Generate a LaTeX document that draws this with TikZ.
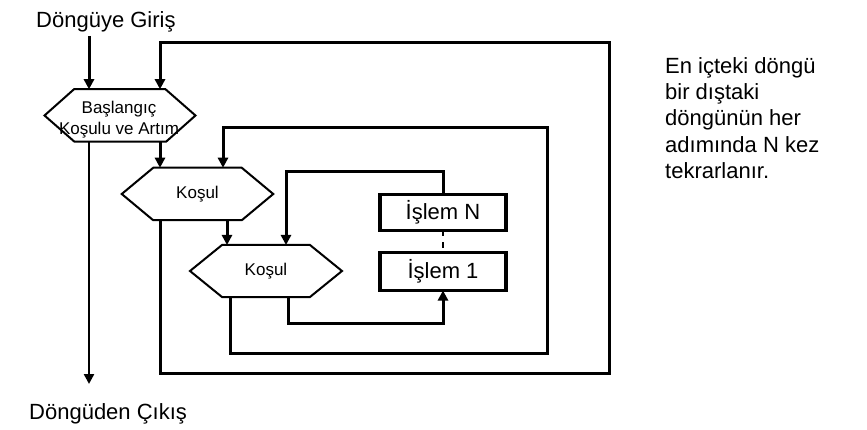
\documentclass[tikz,border=0pt]{standalone}
\usepackage{fontspec}
\setmainfont{Liberation Sans}
\usetikzlibrary{arrows.meta}
\begin{document}
\begin{tikzpicture}[x=1pt,y=-1pt,
  conn/.style={line width=3pt, line join=miter, -{Triangle[length=10pt,width=10pt]}},
  hexnode/.style={inner sep=0pt, outer sep=0pt, font=\fontsize{17}{21}\selectfont},
  hexline/.style={line width=2pt, line join=miter},
  boxnode/.style={draw, line width=3.2pt, inner sep=0pt, outer sep=0pt, font=\fontsize{22}{26}\selectfont},
  lbl/.style={font=\fontsize{22}{26}\selectfont, inner sep=0pt},
  small/.style={font=\fontsize{17}{21}\selectfont, align=center, inner sep=0pt}]
\useasboundingbox (0,0) rectangle (867,430);
\fill[white] (0,0) rectangle (867,430);

% hexagon 1
\node[hexnode, minimum width=151pt, minimum height=52.5pt] (h1) at (120,115.5) {};
\draw[hexline] (h1.west) -- ([xshift=29.5pt]h1.north west) -- ([xshift=-30pt]h1.north east) -- (h1.east)
  -- ([xshift=-29.5pt]h1.south east) -- ([xshift=30pt]h1.south west) -- cycle;
\node[small] (h1t) at (119,120) {Başlangıç\\Koşulu ve Artım};

% hexagon 2 (Koşul)
\node[hexnode, minimum width=151.5pt, minimum height=52.5pt] (k1) at (197.5,194) {Koşul};
\draw[hexline] (k1.west) -- ([xshift=31.5pt]k1.north west) -- ([xshift=-31.5pt]k1.north east) -- (k1.east)
  -- ([xshift=-31.5pt]k1.south east) -- ([xshift=31.5pt]k1.south west) -- cycle;

% hexagon 3 (Koşul)
\node[hexnode, minimum width=152pt, minimum height=52pt] (k2) at (266,271) {Koşul};
\draw[hexline] (k2.west) -- ([xshift=32pt]k2.north west) -- ([xshift=-32pt]k2.north east) -- (k2.east)
  -- ([xshift=-32pt]k2.south east) -- ([xshift=32pt]k2.south west) -- cycle;

% process boxes
\node[boxnode, minimum width=126pt, minimum height=36pt] (pn) at (443,212.5) {İşlem N};
\node[boxnode, minimum width=126pt, minimum height=38pt] (p1) at (443,271.5) {İşlem 1};

% labels
\node[lbl, anchor=base west] (entry) at (36,28) {Döngüye Giriş};
\node[lbl, anchor=base west] (exit) at (29,419) {Döngüden Çıkış};
\node[font=\fontsize{22}{26.3}\selectfont, align=left, anchor=north west, inner sep=0pt] (note) at (665,57)
  {En içteki döngü\\bir dıştaki\\döngünün her\\adımında N kez\\tekrarlanır.};

% coordinates
\coordinate (in) at (89,36);
\coordinate (out) at (89,384);
\coordinate (o1) at (609,373);
\coordinate (o2) at (609,43);
\coordinate (m1) at (547,353);
\coordinate (m2) at (547,128);
\coordinate (i1) at (443,323);
\coordinate (n1) at (286,172);

% connectors
\draw[conn] (in) -- (in |- h1.north);
\draw[conn, line width=2.4pt] (h1.south -| out) -- (out);
\draw[conn] ([xshift=40pt]h1.south) -- ([xshift=-37.5pt]k1.north);
\draw[conn] ([xshift=-37.5pt]k1.south) |- (o1) -- (o2) -| ([xshift=40pt]h1.north);
\draw[conn] ([xshift=29.5pt]k1.south) -- ([xshift=-39pt]k2.north);
\draw[conn] ([xshift=-36pt]k2.south) |- (m1) -- (m2) -| ([xshift=25.5pt]k1.north);
\draw[conn] ([xshift=22pt]k2.south) |- (i1) -- (p1.south);
\draw[conn] (pn.north) |- (n1) -- ([xshift=20pt]k2.north);
\draw[line width=1.2pt, dash pattern=on 6pt off 6pt] (pn.south) -- (p1.north);
\end{tikzpicture}
\end{document}
